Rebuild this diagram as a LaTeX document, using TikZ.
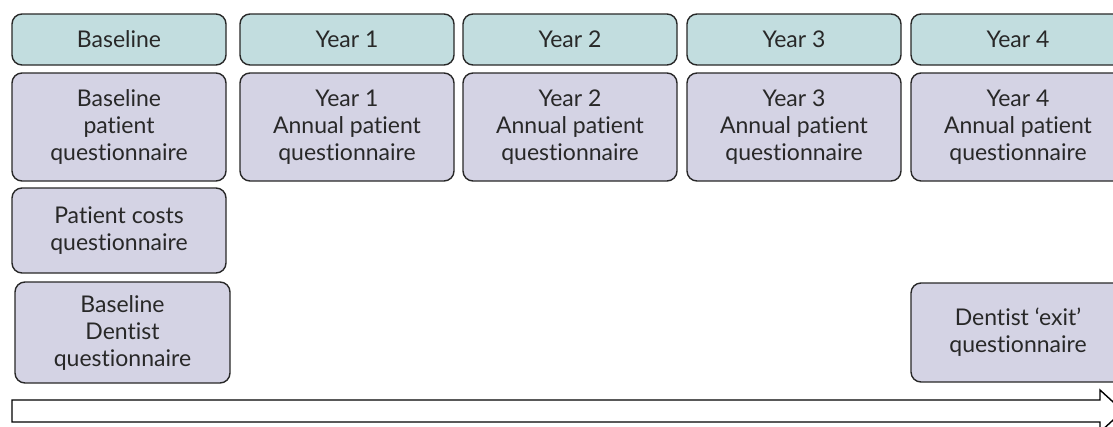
\documentclass[tikz,border=0pt]{standalone}
\usepackage{fontspec}
\setmainfont{Lato}[Ligatures=NoCommon]
\definecolor{headteal}{RGB}{194, 221, 223}
\definecolor{qlilac}{RGB}{212, 211, 228}
\definecolor{edgegray}{RGB}{40, 40, 40}
\definecolor{textgray}{RGB}{40, 40, 40}
\usepackage{tikz}
\usetikzlibrary{positioning}

\begin{document}
\begin{tikzpicture}[x=1pt, y=-1pt,
  box/.style={draw=edgegray, line width=1.4pt, rounded corners=10pt, text=textgray,
    font=\fontsize{23}{27}\selectfont, align=center, minimum width=214pt, inner sep=0pt},
  headbox/.style={box, fill=headteal, minimum height=51pt},
  qbox/.style={box, fill=qlilac}]
  % Frame
  \clip (0, 0) rectangle (1113, 426);

  % Header row
  \node[headbox] (base) at (119, 39.5) {Baseline};
  \node[headbox] (yr1) at (347, 39.5) {Year 1};
  \node[headbox] (yr2) at (570, 39.5) {Year 2};
  \node[headbox] (yr3) at (794, 39.5) {Year 3};
  \node[headbox] (yr4) at (1018, 39.5) {Year 4};

  % Annual questionnaires
  \node[qbox, minimum height=108pt] (baseq) at (119, 127) {Baseline\\patient\\questionnaire};
  \node[qbox, minimum height=108pt] (yr1q) at (347, 127) {Year 1\\Annual patient\\questionnaire};
  \node[qbox, minimum height=108pt] (yr2q) at (570, 127) {Year 2\\Annual patient\\questionnaire};
  \node[qbox, minimum height=108pt] (yr3q) at (794, 127) {Year 3\\Annual patient\\questionnaire};
  \node[qbox, minimum height=108pt] (yr4q) at (1018, 127) {Year 4\\Annual patient\\questionnaire};

  % Extra questionnaires
  \node[qbox, minimum height=85pt] (costq) at (119, 230.5) {Patient costs\\questionnaire};
  \node[qbox, minimum height=101pt, minimum width=215pt] (dentq) at (122.5, 332.5) {Baseline\\Dentist\\questionnaire};
  \node[qbox, minimum height=99pt] (exitq) at (1018, 332.5) {Dentist ‘exit’\\questionnaire};

  % Timeline arrow
  \draw[draw=black, line width=1.4pt, line join=miter]
    (12, 400) -- (1100, 400) -- (1100, 390) -- (1123, 411)
    -- (1100, 432) -- (1100, 422) -- (12, 422) -- cycle;
\end{tikzpicture}
\end{document}
